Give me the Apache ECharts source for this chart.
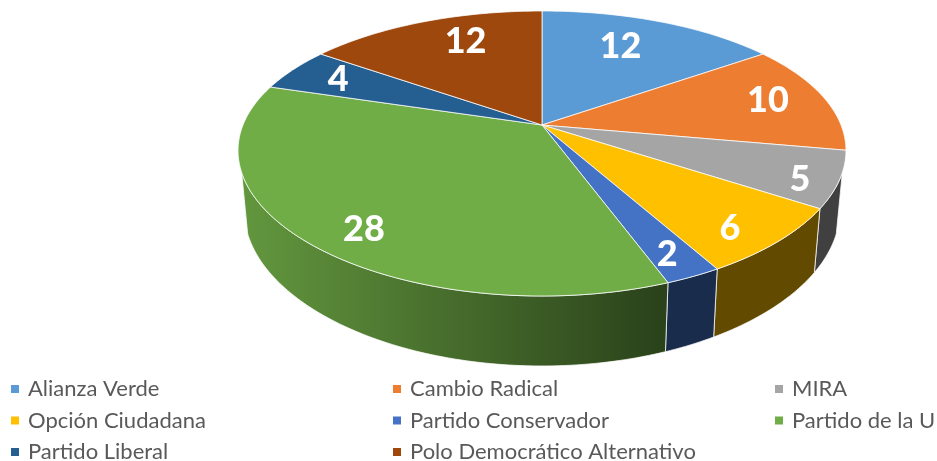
<!DOCTYPE html>
<html><head><meta charset="utf-8">
<style>html,body{margin:0;padding:0;background:#fff}#c{width:937px;height:461px}</style>
<script src="https://cdn.jsdelivr.net/npm/echarts@6/dist/echarts.min.js"></script>
</head><body><div id="c"></div>
<script>
const categories = ['Alianza Verde','Cambio Radical','MIRA','Opción Ciudadana','Partido Conservador','Partido de la U','Partido Liberal','Polo Democrático Alternativo'];
const seats = [12,10,5,6,2,28,4,12];
const colors = ['#5b9bd5','#ed7d31','#a5a5a5','#ffc000','#4472c4','#70ad47','#255e91','#9e480e'];
const legendColumns = [[0,3,6],[1,4,7],[2,5]];
const legendX = [11,393,775];

// perspective projection of the pie's disc
const cx = 542, cy = 125, Rx = 299, Ry = 136.8, kx = 0.18, ky = 0.2, labelR = 0.7;
const wallFrom = 109*Math.PI/180, wallTo = 251*Math.PI/180;   // silhouette of the extruded wall
const labelNudge = [[-8,-3],[27,-4],[54,17],[30,26],[25,30],[-20,27],[-26,-6],[10,-8]];
const total = seats.reduce((a,b)=>a+b,0);
const FONT = 'Lato';

function topPoint(theta, r){
  const c = Math.cos(theta), s = Math.sin(theta);
  return [cx + Rx*r*s/(1 + kx*r*c), cy - Ry*r*c/(1 + ky*r*c)];
}
function bottomPoint(theta){
  const p = topPoint(theta,1);
  return [541 + 0.98*(p[0]-541), 183 + 1.07*(p[1]-cy)];
}
function shade(hex,f){
  const n = parseInt(hex.slice(1),16);
  const c = s => Math.round(((n>>s)&255)*f);
  return `rgb(${c(16)},${c(8)},${c(0)})`;
}
function arc(fn,a,b){
  const n = Math.max(2,Math.ceil((b-a)/(Math.PI/180)));
  const out=[];
  for(let i=0;i<=n;i++) out.push(fn(a+(b-a)*i/n));
  return out;
}
function makeRender(idx){
  return function(params, api){
    const before = seats.slice(0,idx).reduce((a,b)=>a+b,0);
    const value = api.value(0);
    const a = before/total*2*Math.PI, b = (before+value)/total*2*Math.PI;
    const rim = arc(t=>topPoint(t,1),a,b);
    const mid = (a+b)/2;
    const lp = topPoint(mid,labelR);
    const children = [
      {type:'polygon',z2:10,shape:{points:[[cx,cy]].concat(rim)},
       style:{fill:colors[idx],stroke:'rgba(255,255,255,0.75)',lineWidth:1}},
      {type:'text',z2:20,x:lp[0]+labelNudge[idx][0],y:lp[1]+labelNudge[idx][1],
       style:{text:String(value),fill:'#fff',font:'900 36px '+FONT,align:'center',verticalAlign:'middle'}}
    ];
    const wa = Math.max(a,wallFrom), wb = Math.min(b,wallTo);
    if (wb > wa) {
      const wall = arc(t=>topPoint(t,1),wa,wb).concat(arc(bottomPoint,wa,wb).reverse());
      children.unshift({type:'polygon',z2:1,shape:{points:wall},
       style:{stroke:'rgba(255,255,255,0.75)',lineWidth:1,
         fill:{type:'linear',x:238,y:0,x2:846,y2:0,global:true,colorStops:[
           {offset:0,color:shade(colors[idx],0.88)},
           {offset:0.69,color:shade(colors[idx],0.385)},
           {offset:1,color:shade(colors[idx],0.385)}]}}});
    }
    return {type:'group',children};
  };
}
const chart = echarts.init(document.getElementById('c'),null,{renderer:'canvas'});
chart.setOption({
  animation:false,
  backgroundColor:'#fff',
  legend: legendColumns.map((col,i)=>({
    orient:'vertical',left:legendX[i],top:378,height:120,itemWidth:8,itemHeight:8,itemGap:9.5,padding:0,
    icon:'rect',selectedMode:false,
    data:col.map(j=>categories[j]),
    textStyle:{fontFamily:FONT,fontSize:22,color:'#595959',padding:[0,0,0,4],lineHeight:20}
  })),
  series: categories.map((name,i)=>({
    type:'custom',name,coordinateSystem:'none',
    itemStyle:{color:colors[i]},
    renderItem:makeRender(i),
    data:[[seats[i]]]
  }))
});
</script></body></html>
